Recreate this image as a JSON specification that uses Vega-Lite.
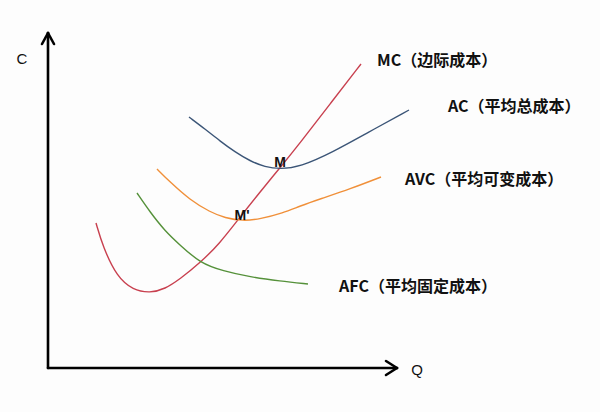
{
  "$schema": "https://vega.github.io/schema/vega-lite/v6.json",
  "autosize": {"type": "fit", "contains": "padding"},
  "width": 600,
  "height": 412,
  "padding": 0,
  "background": "#fdfdfd",
  "config": {"view": {"stroke": null}},
  "datasets": {
    "curves": [
      {"curve": "MC", "q": 48, "c": 145},
      {"curve": "MC", "q": 55, "c": 121},
      {"curve": "MC", "q": 69, "c": 91},
      {"curve": "MC", "q": 85, "c": 78},
      {"curve": "MC", "q": 102, "c": 75},
      {"curve": "MC", "q": 117, "c": 79},
      {"curve": "MC", "q": 132, "c": 89},
      {"curve": "MC", "q": 152, "c": 105},
      {"curve": "MC", "q": 172, "c": 125},
      {"curve": "MC", "q": 189, "c": 147},
      {"curve": "MC", "q": 212, "c": 176},
      {"curve": "MC", "q": 231, "c": 199},
      {"curve": "MC", "q": 252, "c": 225},
      {"curve": "MC", "q": 282, "c": 264},
      {"curve": "MC", "q": 313, "c": 304},

      {"curve": "AC", "q": 141, "c": 251},
      {"curve": "AC", "q": 157, "c": 239},
      {"curve": "AC", "q": 172, "c": 227},
      {"curve": "AC", "q": 187, "c": 216},
      {"curve": "AC", "q": 202, "c": 207},
      {"curve": "AC", "q": 217, "c": 201},
      {"curve": "AC", "q": 232, "c": 199},
      {"curve": "AC", "q": 252, "c": 201},
      {"curve": "AC", "q": 285, "c": 216},
      {"curve": "AC", "q": 319, "c": 235},
      {"curve": "AC", "q": 361, "c": 258},

      {"curve": "AVC", "q": 109, "c": 199},
      {"curve": "AVC", "q": 122, "c": 186},
      {"curve": "AVC", "q": 142, "c": 168},
      {"curve": "AVC", "q": 162, "c": 156},
      {"curve": "AVC", "q": 177, "c": 150},
      {"curve": "AVC", "q": 195, "c": 147},
      {"curve": "AVC", "q": 212, "c": 149},
      {"curve": "AVC", "q": 235, "c": 155},
      {"curve": "AVC", "q": 252, "c": 162},
      {"curve": "AVC", "q": 272, "c": 169},
      {"curve": "AVC", "q": 302, "c": 179},
      {"curve": "AVC", "q": 333, "c": 191},

      {"curve": "AFC", "q": 89, "c": 175},
      {"curve": "AFC", "q": 102, "c": 156},
      {"curve": "AFC", "q": 117, "c": 137},
      {"curve": "AFC", "q": 132, "c": 123},
      {"curve": "AFC", "q": 152, "c": 105},
      {"curve": "AFC", "q": 175, "c": 97},
      {"curve": "AFC", "q": 202, "c": 91},
      {"curve": "AFC", "q": 232, "c": 87},
      {"curve": "AFC", "q": 260, "c": 84}
    ],
    "axes": [
      {"part": "x axis", "q": 0, "c": 0, "q2": 349, "c2": 0},
      {"part": "y axis", "q": 0, "c": 0, "q2": 0, "c2": 335},
      {"part": "x head", "q": 349, "c": 0, "q2": 338, "c2": 7},
      {"part": "x head", "q": 349, "c": 0, "q2": 338, "c2": -7},
      {"part": "y head", "q": 0, "c": 335, "q2": -6, "c2": 324},
      {"part": "y head", "q": 0, "c": 335, "q2": 6, "c2": 324}
    ],
    "curveLabels": [
      {"label": "MC（边际成本）", "q": 329, "c": 307},
      {"label": "AC（平均总成本）", "q": 400, "c": 261},
      {"label": "AVC（平均可变成本）", "q": 357, "c": 188},
      {"label": "AFC（平均固定成本）", "q": 291, "c": 81}
    ],
    "pointLabels": [
      {"label": "M", "q": 232, "c": 205},
      {"label": "M'", "q": 194, "c": 152}
    ],
    "axisLabels": [
      {"label": "C", "q": -26, "c": 309},
      {"label": "Q", "q": 369, "c": -2}
    ]
  },
  "layer": [
    {
      "data": {"name": "axes"},
      "mark": {"type": "rule", "color": "#000000", "strokeWidth": 2.6, "strokeCap": "round"},
      "encoding": {
        "x": {"field": "q", "type": "quantitative", "scale": {"domain": [-48, 552]}, "axis": null},
        "y": {"field": "c", "type": "quantitative", "scale": {"domain": [-44, 368]}, "axis": null},
        "x2": {"field": "q2"},
        "y2": {"field": "c2"}
      }
    },
    {
      "data": {"name": "curves"},
      "mark": {"type": "line", "interpolate": "basis"},
      "encoding": {
        "x": {"field": "q", "type": "quantitative", "scale": {"domain": [-48, 552]}, "axis": null},
        "y": {"field": "c", "type": "quantitative", "scale": {"domain": [-44, 368]}, "axis": null},
        "color": {
          "field": "curve",
          "type": "nominal",
          "legend": null,
          "scale": {
            "domain": ["MC", "AC", "AVC", "AFC"],
            "range": ["#c8404f", "#3b5577", "#f0903a", "#55913a"]
          }
        },
        "strokeWidth": {
          "field": "curve",
          "type": "nominal",
          "legend": null,
          "scale": {
            "domain": ["MC", "AC", "AVC", "AFC"],
            "range": [1.4, 1.4, 2.4, 1.7]
          }
        }
      }
    },
    {
      "data": {"name": "curveLabels"},
      "mark": {"type": "text", "align": "left", "baseline": "middle", "font": "Noto Sans CJK SC", "fontWeight": "bold", "fontSize": 16, "color": "#111111"},
      "encoding": {
        "x": {"field": "q", "type": "quantitative", "scale": {"domain": [-48, 552]}, "axis": null},
        "y": {"field": "c", "type": "quantitative", "scale": {"domain": [-44, 368]}, "axis": null},
        "text": {"field": "label"}
      }
    },
    {
      "data": {"name": "pointLabels"},
      "mark": {"type": "text", "align": "center", "baseline": "middle", "font": "Liberation Sans", "fontWeight": "bold", "fontSize": 14, "color": "#111111"},
      "encoding": {
        "x": {"field": "q", "type": "quantitative", "scale": {"domain": [-48, 552]}, "axis": null},
        "y": {"field": "c", "type": "quantitative", "scale": {"domain": [-44, 368]}, "axis": null},
        "text": {"field": "label"}
      }
    },
    {
      "data": {"name": "axisLabels"},
      "mark": {"type": "text", "align": "center", "baseline": "middle", "font": "Liberation Sans", "fontSize": 15, "color": "#111111"},
      "encoding": {
        "x": {"field": "q", "type": "quantitative", "scale": {"domain": [-48, 552]}, "axis": null},
        "y": {"field": "c", "type": "quantitative", "scale": {"domain": [-44, 368]}, "axis": null},
        "text": {"field": "label"}
      }
    }
  ]
}
